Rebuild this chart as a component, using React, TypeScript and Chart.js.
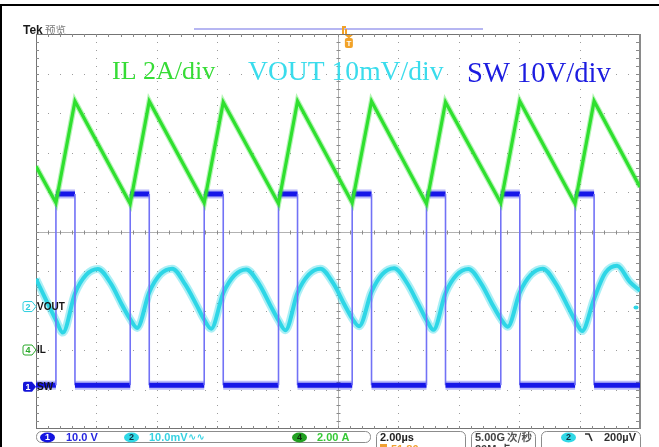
import React, { useEffect, useRef } from 'react';
import { Chart, registerables } from 'chart.js';
Chart.register(...registerables);

// ---- scope settings ----
const timeDivUs = 2; // 2.00 µs/div, 10 divisions
const swVoltsDiv = 10; // 10.0 V/div
const ilAmpsDiv = 2; // 2.00 A/div
const voutMvDiv = 10; // 10.0 mV/div
const trigUs = 10.36;

// channel ground markers, divisions from screen centre
const swOffsetDiv = -3.93;
const ilOffsetDiv = -3.0;
const voutOffsetDiv = -1.9;

// ---- SW (ch1) ----
const swRiseUs = [0.66, 3.12, 5.57, 8.03, 10.47, 12.93, 15.39, 17.85];
const swFallUs = [1.29, 3.75, 6.2, 8.66, 11.11, 13.56, 16.02, 18.48];
const swHighV = 48.8;
const swLowV = 0.4;

// ---- IL (ch4) ----
const ilStartA = 9.3;
const ilValleyA = [7.45, 7.4, 7.45, 7.42, 7.45, 7.4, 7.45, 7.42];
const ilPeakA = [12.6, 12.6, 12.55, 12.6, 12.6, 12.55, 12.6, 12.6];
const ilEndA = 8.25;

// ---- VOUT (ch2, AC) ----
const voutTimeUs = [
  0.0, 0.3,
  0.66, 0.89, 1.29, 1.66, 2.05, 2.48, 2.85,
  3.12, 3.35, 3.75, 4.12, 4.51, 4.94, 5.31,
  5.57, 5.8, 6.2, 6.57, 6.96, 7.39, 7.76,
  8.03, 8.26, 8.66, 9.03, 9.42, 9.85, 10.22,
  10.47, 10.7, 11.11, 11.47, 11.86, 12.29, 12.66,
  12.93, 13.16, 13.56, 13.93, 14.32, 14.75, 15.12,
  15.39, 15.62, 16.02, 16.39, 16.78, 17.21, 17.58,
  17.85, 18.08, 18.48, 18.85, 19.24, 19.67, 20.0,
];
const voutMv = [
  7.0, 2.2,
  -3.4, -6.6, 3.3, 8.0, 9.5, 5.8, 0.4,
  -3.2, -5.4, 3.6, 8.2, 9.6, 5.6, 0.5,
  -3.3, -5.6, 3.4, 7.9, 9.4, 5.7, 0.3,
  -3.5, -6.0, 3.5, 8.1, 9.6, 5.8, 0.4,
  -3.0, -5.0, 3.7, 8.2, 9.7, 5.9, 0.6,
  -3.4, -5.9, 3.4, 8.0, 9.5, 5.7, 0.4,
  -3.1, -5.1, 3.6, 8.1, 9.6, 5.8, 0.5,
  -3.5, -6.2, 2.0, 8.5, 10.3, 6.2, 4.0,
];

const annotations = [
  { text: 'IL 2A/div', color: '#36dc36', x: 112, y: 79, size: 26 },
  { text: 'VOUT 10mV/div', color: '#3adcec', x: 248, y: 80, size: 27.6 },
  { text: 'SW 10V/div', color: '#1c1ce0', x: 467, y: 82, size: 28.6 },
];

const C_SW = '#1616e8';
const C_IL = '#2fe02f';
const C_VOUT = '#2ed6e6';

const endUs = 10 * timeDivUs;

function buildSw() {
  const lo = swOffsetDiv + swLowV / swVoltsDiv;
  const hi = swOffsetDiv + swHighV / swVoltsDiv;
  const pts = [{ x: 0, y: lo }];
  swRiseUs.forEach((r, i) => {
    pts.push({ x: r, y: lo }, { x: r, y: hi }, { x: swFallUs[i], y: hi }, { x: swFallUs[i], y: lo });
  });
  pts.push({ x: endUs, y: lo });
  return pts;
}
function buildIl() {
  const d = (a: number) => ilOffsetDiv + a / ilAmpsDiv;
  const pts = [{ x: 0, y: d(ilStartA) }];
  swRiseUs.forEach((r, i) => {
    pts.push({ x: r, y: d(ilValleyA[i]) }, { x: swFallUs[i], y: d(ilPeakA[i]) });
  });
  pts.push({ x: endUs, y: d(ilEndA) });
  return pts;
}
function buildVout() {
  return voutTimeUs.map((t, i) => ({ x: t, y: voutOffsetDiv + voutMv[i] / voutMvDiv }));
}

const isVert = (c: any) => Math.abs(c.p0.x - c.p1.x) < 0.5;

function tag(ctx: CanvasRenderingContext2D, y: number, label: string, color: string, filled: boolean, name: string) {
  const x0 = 23, x1 = 32, tip = 36, h = 10;
  ctx.beginPath();
  ctx.moveTo(x0 + 2, y - h / 2);
  ctx.lineTo(x1, y - h / 2);
  ctx.lineTo(tip, y);
  ctx.lineTo(x1, y + h / 2);
  ctx.lineTo(x0 + 2, y + h / 2);
  ctx.quadraticCurveTo(x0, y + h / 2, x0, y + h / 2 - 2);
  ctx.lineTo(x0, y - h / 2 + 2);
  ctx.quadraticCurveTo(x0, y - h / 2, x0 + 2, y - h / 2);
  ctx.closePath();
  ctx.lineWidth = 1;
  if (filled) {
    ctx.fillStyle = color;
    ctx.fill();
  } else {
    ctx.fillStyle = '#ffffff';
    ctx.fill();
    ctx.strokeStyle = color;
    ctx.stroke();
  }
  ctx.fillStyle = filled ? '#ffffff' : color;
  ctx.font = 'bold 9px "Liberation Sans", Arial, sans-serif';
  ctx.textAlign = 'center';
  ctx.textBaseline = 'middle';
  ctx.fillText(label, (x0 + x1) / 2 + 0.5, y + 0.5);
  ctx.textAlign = 'left';
  ctx.fillStyle = '#151515';
  ctx.font = 'bold 10px "Liberation Sans", Arial, sans-serif';
  ctx.fillText(name, 37, y + 0.5);
}

function chip(ctx: CanvasRenderingContext2D, cx: number, cy: number, label: string, fill: string, txt: string) {
  ctx.beginPath();
  ctx.ellipse(cx, cy, 7.5, 5, 0, 0, Math.PI * 2);
  ctx.fillStyle = fill;
  ctx.fill();
  ctx.fillStyle = txt;
  ctx.font = 'bold 9px "Liberation Sans", Arial, sans-serif';
  ctx.textAlign = 'center';
  ctx.textBaseline = 'middle';
  ctx.fillText(label, cx, cy + 0.5);
  ctx.textAlign = 'left';
}

const scopePlugin = {
  id: 'scope',
  beforeDraw(chart: any) {
    const ctx: CanvasRenderingContext2D = chart.ctx;
    ctx.save();
    ctx.fillStyle = '#ffffff';
    ctx.fillRect(0, 0, chart.width, chart.height);
    ctx.fillStyle = '#000000';
    ctx.fillRect(0, 4, chart.width, 2);
    ctx.fillRect(0, 4, 2, chart.height - 4);
    ctx.restore();
  },
  beforeDatasetsDraw(chart: any) {
    const ctx: CanvasRenderingContext2D = chart.ctx;
    const xs = chart.scales.x, ys = chart.scales.y;
    const { left, right, top, bottom } = chart.chartArea;
    ctx.save();
    // dotted division lines
    ctx.fillStyle = '#9c9c9c';
    for (let d = 1; d < 10; d++) {
      if (d === 5) continue;
      const px = Math.round(xs.getPixelForValue(d * timeDivUs));
      for (let m = 1; m < 50; m++) {
        ctx.fillRect(px, Math.round(ys.getPixelForValue(-5 + m * 0.2)), 1, 1);
      }
    }
    for (let d = -4; d <= 4; d++) {
      if (d === 0) continue;
      const py = Math.round(ys.getPixelForValue(d));
      for (let m = 1; m < 50; m++) {
        ctx.fillRect(Math.round(xs.getPixelForValue(m * 0.4)), py, 1, 1);
      }
    }
    // centre cross
    const cx = Math.round(xs.getPixelForValue(5 * timeDivUs)) + 0.5;
    const cy = Math.round(ys.getPixelForValue(0)) + 0.5;
    ctx.strokeStyle = '#b2b2b2';
    ctx.lineWidth = 1;
    ctx.beginPath();
    ctx.moveTo(left, cy); ctx.lineTo(right, cy);
    ctx.moveTo(cx, top); ctx.lineTo(cx, bottom);
    ctx.stroke();
    ctx.strokeStyle = '#8a8a8a';
    ctx.beginPath();
    for (let m = 1; m < 50; m++) {
      const px = Math.round(xs.getPixelForValue(m * 0.4)) + 0.5;
      ctx.moveTo(px, cy - 2); ctx.lineTo(px, cy + 2);
      const py = Math.round(ys.getPixelForValue(-5 + m * 0.2)) + 0.5;
      ctx.moveTo(cx - 2, py); ctx.lineTo(cx + 2, py);
    }
    ctx.stroke();
    // border with ticks
    ctx.strokeStyle = '#747474';
    ctx.strokeRect(left + 0.5, top + 0.5, right - left - 1, bottom - top - 1);
    ctx.fillStyle = '#8a8a8a';
    ctx.fillRect(right - 1, top, 2, bottom - top);
    ctx.beginPath();
    ctx.strokeStyle = '#8a8a8a';
    for (let m = 1; m < 50; m++) {
      const px = Math.round(xs.getPixelForValue(m * 0.4)) + 0.5;
      ctx.moveTo(px, top); ctx.lineTo(px, top + 3);
      ctx.moveTo(px, bottom); ctx.lineTo(px, bottom - 3);
      const py = Math.round(ys.getPixelForValue(-5 + m * 0.2)) + 0.5;
      ctx.moveTo(left, py); ctx.lineTo(left + 3, py);
      ctx.moveTo(right, py); ctx.lineTo(right - 4, py);
    }
    ctx.stroke();
    ctx.restore();
  },
  afterDraw(chart: any) {
    const ctx: CanvasRenderingContext2D = chart.ctx;
    const xs = chart.scales.x, ys = chart.scales.y;
    ctx.save();
    // header
    ctx.textBaseline = 'alphabetic';
    ctx.textAlign = 'left';
    ctx.fillStyle = '#1a1a1a';
    ctx.font = 'bold 12px "Liberation Sans", Arial, sans-serif';
    ctx.fillText('Tek', 23, 34);
    ctx.fillStyle = '#7a7a7a';
    ctx.font = '10.5px "Noto Sans CJK SC", sans-serif';
    ctx.fillText('预览', 45, 34);
    // record bar
    ctx.strokeStyle = '#b6b6f2';
    ctx.lineWidth = 2;
    ctx.beginPath();
    ctx.moveTo(194, 29); ctx.lineTo(483, 29);
    ctx.stroke();
    ctx.fillStyle = '#f2a228';
    ctx.fillRect(342, 26, 2, 8);
    ctx.fillRect(342, 26, 4, 2);
    ctx.fillRect(345, 29, 2, 5);
    // trigger T marker
    const tx = xs.getPixelForValue(trigUs);
    ctx.beginPath();
    ctx.moveTo(tx - 4, 35); ctx.lineTo(tx + 4, 35); ctx.lineTo(tx, 38.5);
    ctx.closePath();
    ctx.fill();
    ctx.beginPath();
    ctx.roundRect(tx - 4, 38, 8, 10, 2);
    ctx.fill();
    ctx.fillStyle = '#fff';
    ctx.font = 'bold 8px "Liberation Sans", Arial, sans-serif';
    ctx.textAlign = 'center';
    ctx.textBaseline = 'middle';
    ctx.fillText('T', tx, 43.5);
    ctx.textAlign = 'left';

    // annotations
    ctx.textBaseline = 'alphabetic';
    annotations.forEach((a) => {
      ctx.font = `${a.size}px "Liberation Serif", "Times New Roman", serif`;
      ctx.fillStyle = a.color;
      ctx.fillText(a.text, a.x, a.y);
    });

    // channel markers
    tag(ctx, ys.getPixelForValue(voutOffsetDiv), '2', '#2ccfdf', false, 'VOUT');
    tag(ctx, ys.getPixelForValue(ilOffsetDiv), '4', '#2aa82a', false, 'IL');
    tag(ctx, ys.getPixelForValue(swOffsetDiv), '1', '#1414d8', true, 'SW');
    // trigger level blob (ch2)
    ctx.fillStyle = C_VOUT;
    ctx.beginPath();
    ctx.ellipse(636, ys.getPixelForValue(voutOffsetDiv) + 1, 2.5, 2, 0, 0, Math.PI * 2);
    ctx.fill();

    // status bar
    ctx.strokeStyle = '#8c8c8c';
    ctx.lineWidth = 1;
    ctx.beginPath(); ctx.roundRect(36.5, 431.5, 334, 11, 5); ctx.stroke();
    ctx.beginPath(); ctx.roundRect(376.5, 431.5, 89, 30, 5); ctx.stroke();
    ctx.beginPath(); ctx.roundRect(471.5, 431.5, 64, 30, 5); ctx.stroke();
    ctx.beginPath(); ctx.roundRect(541.5, 431.5, 99, 30, 5); ctx.stroke();

    const sy = 437.5;
    chip(ctx, 47.5, sy, '1', '#1414e0', '#ffffff');
    chip(ctx, 131.5, sy, '2', '#30d8e6', '#103040');
    chip(ctx, 299.5, sy, '4', '#22a022', '#0a2a0a');
    chip(ctx, 568.5, sy, '2', '#30d8e6', '#103040');
    ctx.textBaseline = 'middle';
    ctx.font = 'bold 11px "Liberation Sans", Arial, sans-serif';
    ctx.fillStyle = '#2626e0';
    ctx.fillText('10.0 V', 66, sy);
    ctx.fillStyle = '#36d2e2';
    ctx.fillText('10.0mV', 149, sy);
    ctx.font = 'bold 10px "DejaVu Sans", sans-serif';
    ctx.fillText('∿∿', 188, sy);
    ctx.font = 'bold 11px "Liberation Sans", Arial, sans-serif';
    ctx.fillStyle = '#36c836';
    ctx.fillText('2.00 A', 317, sy);
    ctx.fillStyle = '#202020';
    ctx.fillText('2.00µs', 380, sy);
    ctx.fillStyle = '#404040';
    ctx.fillText('5.00G', 475, sy);
    ctx.font = 'bold 10.5px "Noto Sans CJK SC", sans-serif';
    ctx.fillStyle = '#555';
    ctx.fillText('次/秒', 507, sy);
    ctx.font = 'bold 11px "Liberation Sans", Arial, sans-serif';
    ctx.fillStyle = '#303030';
    ctx.fillText('200µV', 604, sy);
    // falling slope icon
    ctx.strokeStyle = '#303030';
    ctx.lineWidth = 1.6;
    ctx.beginPath();
    ctx.moveTo(585, 434); ctx.lineTo(589, 434); ctx.lineTo(592, 441);
    ctx.stroke();
    // second lines (cut off)
    ctx.fillStyle = '#f0a030';
    ctx.fillRect(380, 444, 7, 6);
    ctx.font = 'bold 11px "Liberation Sans", Arial, sans-serif';
    ctx.textBaseline = 'alphabetic';
    ctx.fillText('51.80 ns', 391, 453);
    ctx.fillStyle = '#404040';
    ctx.fillText('20M', 475, 453);
    ctx.font = 'bold 10.5px "Noto Sans CJK SC", sans-serif';
    ctx.fillText('点', 500, 453);
    ctx.restore();
  },
};

export default function App() {
  const ref = useRef<HTMLCanvasElement>(null);
  useEffect(() => {
    const canvas = ref.current!;
    const sw = buildSw();
    const il = buildIl();
    const vout = buildVout();
    const chart = new Chart(canvas, {
      type: 'line',
      data: {
        datasets: [
          { label: 'IL', data: il, borderColor: C_IL, borderWidth: 3.2, pointRadius: 0, order: 1 },
          { label: 'IL halo', data: il, borderColor: 'rgba(47,224,47,0.35)', borderWidth: 5.5, pointRadius: 0, order: 2 },
          {
            label: 'SW', data: sw, borderColor: C_SW, borderWidth: 5, pointRadius: 0, order: 3,
            segment: {
              borderWidth: (c: any) => (isVert(c) ? 1.6 : 5),
              borderColor: (c: any) => (isVert(c) ? '#7272f6' : C_SW),
            },
          },
          {
            label: 'SW halo', data: sw, borderColor: 'rgba(30,30,235,0.3)', borderWidth: 9, pointRadius: 0, order: 4,
            segment: {
              borderColor: (c: any) => (isVert(c) ? 'rgba(0,0,0,0)' : 'rgba(30,30,235,0.3)'),
            },
          },
          { label: 'VOUT', data: vout, borderColor: C_VOUT, borderWidth: 4, pointRadius: 0, cubicInterpolationMode: 'monotone', order: 5 },
          { label: 'VOUT halo', data: vout, borderColor: 'rgba(46,214,230,0.4)', borderWidth: 8, pointRadius: 0, cubicInterpolationMode: 'monotone', order: 6 },
        ] as any,
      },
      options: {
        responsive: false,
        animation: false,
        events: [],
        layout: { padding: { left: 36, right: 19, top: 34, bottom: 18 } },
        plugins: { legend: { display: false }, tooltip: { enabled: false }, title: { display: false } },
        scales: {
          x: { type: 'linear', min: 0, max: endUs, display: false },
          y: { type: 'linear', min: -5, max: 5, display: false },
        },
      },
      plugins: [scopePlugin],
    });
    return () => chart.destroy();
  }, []);
  return (
    <div style={{ position: 'absolute', left: 0, top: 0, width: 659, height: 447, background: '#fff' }}>
      <canvas ref={ref} width={659} height={447} style={{ display: 'block', width: 659, height: 447 }} />
    </div>
  );
}
